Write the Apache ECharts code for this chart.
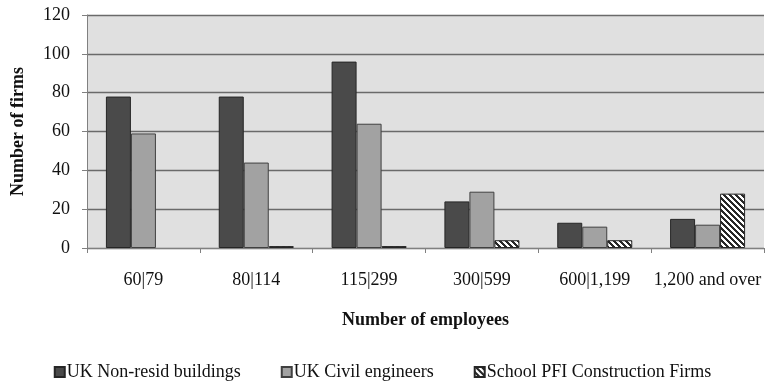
<!DOCTYPE html>
<html>
<head>
<meta charset="utf-8">
<script src="https://cdn.jsdelivr.net/npm/echarts@6/dist/echarts.min.js"></script>
<style>
  html, body { margin: 0; padding: 0; background: #ffffff; }
  #chart { width: 765px; height: 387px; }
</style>
</head>
<body>
<div id="chart"></div>
<script>
// Firm counts by employee size band
const categories = ['60|79', '80|114', '115|299', '300|599', '600|1,199', '1,200 and over'];
const nonResidBuildings = [78, 78, 96, 24, 13, 15];
const civilEngineers = [59, 44, 64, 29, 11, 12];
const schoolPfiFirms = [0, 1, 1, 4, 4, 28];
const yTicks = { min: 0, max: 120, interval: 20 };

const serif = '"Liberation Serif", "DejaVu Serif", serif';

// Diagonal hatch fill for the PFI series
function hatchPattern() {
  const p = 6;
  const c = document.createElement('canvas');
  c.width = p; c.height = p;
  const ctx = c.getContext('2d');
  const img = ctx.createImageData(p, p);
  for (let y = 0; y < p; y++) {
    for (let x = 0; x < p; x++) {
      const d = ((x - y) % p + p) % p;
      const v = d < 3 ? 40 : 255;
      const i = (y * p + x) * 4;
      img.data[i] = v; img.data[i + 1] = v; img.data[i + 2] = v; img.data[i + 3] = 255;
    }
  }
  ctx.putImageData(img, 0, 0);
  return { image: c, repeat: 'repeat' };
}

// Zero-height bars get no outline so they leave no stray line on the axis
function withHiddenZeros(values) {
  return values.map(v => (v === 0 ? { value: 0, itemStyle: { borderWidth: 0 } } : v));
}

const chart = echarts.init(document.getElementById('chart'), null, { renderer: 'canvas' });

chart.setOption({
  animation: false,
  backgroundColor: '#ffffff',
  textStyle: { fontFamily: serif, color: '#111111' },
  grid: {
    left: 87, right: 1, top: 15, bottom: 139,
    show: true, backgroundColor: '#e0e0e0', borderWidth: 0
  },
  legend: {
    bottom: 1,
    left: 'center',
    itemWidth: 10, itemHeight: 10, itemGap: 40,
    icon: 'rect',
    textStyle: { fontFamily: serif, fontSize: 18, color: '#111111', padding: [0, 0, 0, -3] },
    data: ['UK Non-resid buildings', 'UK Civil engineers', 'School PFI Construction Firms']
  },
  xAxis: {
    type: 'category',
    data: categories,
    name: 'Number of employees',
    nameLocation: 'middle',
    nameGap: 63,
    nameTextStyle: { fontFamily: serif, fontSize: 18, fontWeight: 'bold', color: '#111111' },
    axisLine: { lineStyle: { color: '#808080', width: 1 } },
    axisTick: { show: true, length: 5, lineStyle: { color: '#808080' } },
    axisLabel: { interval: 0, fontFamily: serif, fontSize: 18, color: '#111111', margin: 23 },
    splitLine: { show: false }
  },
  yAxis: {
    type: 'value',
    min: yTicks.min, max: yTicks.max, interval: yTicks.interval,
    name: 'Number of firms',
    nameLocation: 'middle',
    nameGap: 60,
    nameRotate: 90,
    nameTextStyle: { fontFamily: serif, fontSize: 18, fontWeight: 'bold', color: '#111111' },
    axisLine: { show: true, lineStyle: { color: '#808080', width: 1 } },
    axisTick: { show: true, length: 5, lineStyle: { color: '#808080' } },
    axisLabel: { fontFamily: serif, fontSize: 18, color: '#111111', margin: 17 },
    splitLine: { show: true, lineStyle: { color: '#6a6a6a', width: 1.3 } }
  },
  series: [
    {
      name: 'UK Non-resid buildings',
      type: 'bar',
      data: withHiddenZeros(nonResidBuildings),
      barWidth: 25,
      barGap: '0%',
      itemStyle: { color: '#4a4a4a', borderColor: '#262626', borderWidth: 1 }
    },
    {
      name: 'UK Civil engineers',
      type: 'bar',
      data: withHiddenZeros(civilEngineers),
      barWidth: 25,
      barGap: '0%',
      itemStyle: { color: '#a2a2a2', borderColor: '#404040', borderWidth: 1 }
    },
    {
      name: 'School PFI Construction Firms',
      type: 'bar',
      data: withHiddenZeros(schoolPfiFirms),
      barWidth: 25,
      barGap: '0%',
      itemStyle: { color: hatchPattern(), borderColor: '#262626', borderWidth: 1 }
    }
  ]
});
</script>
</body>
</html>
